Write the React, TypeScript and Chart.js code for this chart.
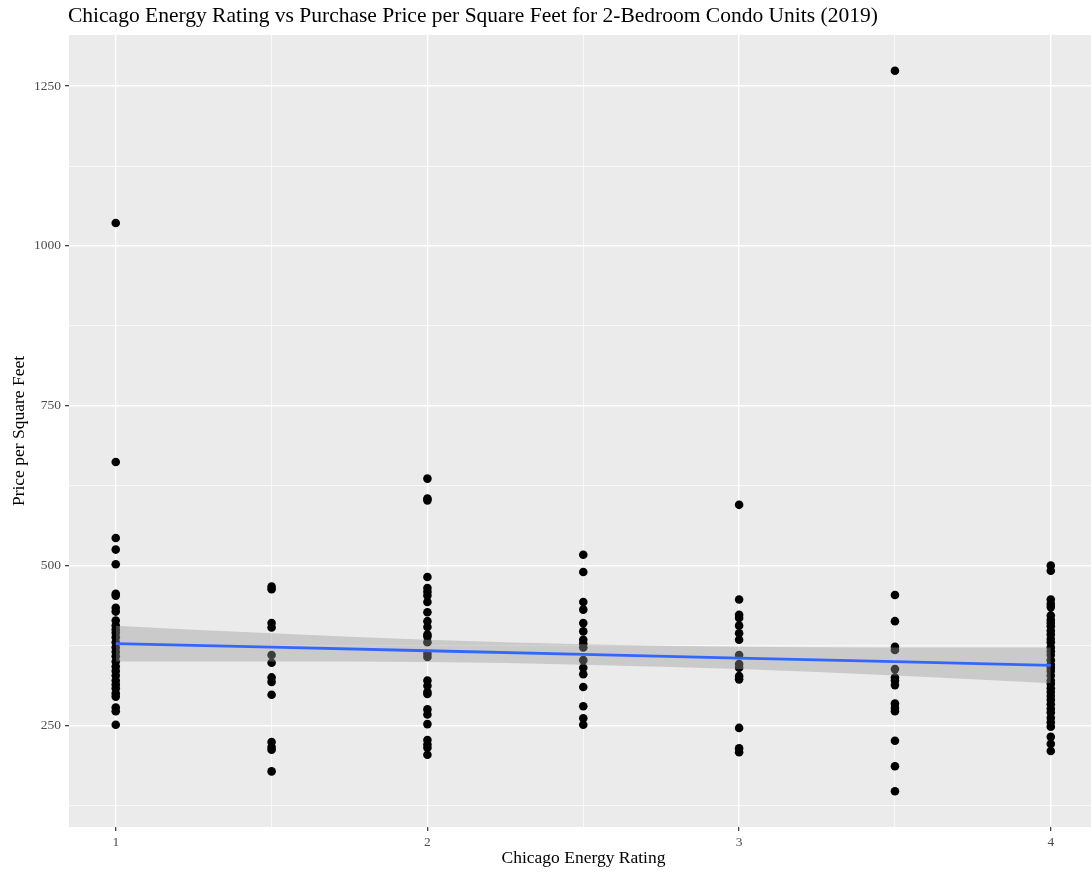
import React, { useEffect, useRef } from "react";
import { Chart, registerables } from "chart.js";

Chart.register(...registerables);

const TITLE = "Chicago Energy Rating vs Purchase Price per Square Feet for 2-Bedroom Condo Units (2019)";
const X_TITLE = "Chicago Energy Rating";
const Y_TITLE = "Price per Square Feet";

const xTicks = [1, 1.5, 2, 2.5, 3, 3.5, 4];
const yTicks = [125, 250, 375, 500, 625, 750, 875, 1000, 1125, 1250];

const pricesR1 = [1036, 662, 543, 525, 502, 456, 453, 434, 428, 414, 406, 400, 395, 388, 380, 372, 365, 358, 350, 342, 335, 328, 320, 314, 308, 300, 295, 278, 272, 251];
const pricesR15 = [467, 463, 410, 403, 360, 348, 325, 318, 298, 224, 216, 212, 178];
const pricesR2 = [636, 605, 602, 482, 465, 459, 453, 443, 427, 413, 404, 392, 389, 380, 362, 357, 320, 312, 302, 299, 275, 267, 252, 227, 220, 215, 204];
const pricesR25 = [517, 490, 443, 431, 410, 397, 384, 378, 372, 352, 340, 330, 310, 280, 261, 251];
const pricesR3 = [595, 447, 423, 418, 406, 394, 384, 360, 346, 340, 327, 322, 246, 214, 208];
const pricesR35 = [1274, 454, 413, 373, 368, 338, 325, 320, 313, 284, 277, 272, 226, 186, 147];
const pricesR4 = [500, 492, 447, 440, 435, 422, 415, 410, 405, 398, 392, 385, 380, 372, 366, 360, 352, 345, 340, 335, 328, 320, 315, 308, 302, 296, 290, 283, 276, 270, 262, 255, 248, 232, 221, 210];

const fitX = [1, 1.5, 2, 2.5, 3, 3.5, 4];
const fitY = [378, 372.3, 366.7, 361, 355.3, 349.7, 344];
const bandLow = [350, 350, 349, 345, 338, 328, 316];
const bandHigh = [406, 394, 384, 377, 373, 372, 372];

const groups: [number, number[]][] = [
  [1, pricesR1],
  [1.5, pricesR15],
  [2, pricesR2],
  [2.5, pricesR25],
  [3, pricesR3],
  [3.5, pricesR35],
  [4, pricesR4],
];

const SERIF = "'Liberation Serif', 'Times New Roman', serif";

export default function App() {
  const ref = useRef<HTMLCanvasElement | null>(null);

  useEffect(() => {
    const canvas = ref.current;
    if (!canvas) return;

    const points = groups.flatMap(([r, arr]) => arr.map((p) => ({ x: r, y: p })));
    const toXY = (ys: number[]) => fitX.map((x, i) => ({ x, y: ys[i] }));

    const textPlugin = {
      id: "texts",
      beforeDraw(chart: any) {
        const { ctx, chartArea } = chart;
        ctx.save();
        ctx.fillStyle = "#EBEBEB";
        ctx.fillRect(chartArea.left, chartArea.top, chartArea.right - chartArea.left, chartArea.bottom - chartArea.top);
        ctx.restore();
      },
      afterDraw(chart: any) {
        const { ctx, chartArea } = chart;
        ctx.save();
        ctx.fillStyle = "#000000";
        ctx.font = `21.5px ${SERIF}`;
        ctx.textAlign = "left";
        ctx.textBaseline = "middle";
        ctx.fillText(TITLE, 68, 16);

        ctx.font = `17.5px ${SERIF}`;
        ctx.textAlign = "center";
        ctx.fillText(X_TITLE, 583.5, 858);

        ctx.translate(19, (chartArea.top + chartArea.bottom) / 2);
        ctx.rotate(-Math.PI / 2);
        ctx.fillText(Y_TITLE, 0, 0);
        ctx.restore();
      },
    };

    const chart = new Chart(canvas, {
      type: "scatter",
      data: {
        datasets: [
          {
            type: "line",
            label: "fit",
            data: toXY(fitY),
            borderColor: "#3366FF",
            borderWidth: 2.8,
            pointRadius: 0,
            fill: false,
            order: 1,
          } as any,
          {
            type: "line",
            label: "upper",
            data: toXY(bandHigh),
            borderWidth: 0,
            borderColor: "rgba(0,0,0,0)",
            pointRadius: 0,
            cubicInterpolationMode: "monotone",
            backgroundColor: "rgba(153,153,153,0.4)",
            fill: "+1",
            order: 2,
          } as any,
          {
            type: "line",
            label: "lower",
            data: toXY(bandLow),
            borderWidth: 0,
            borderColor: "rgba(0,0,0,0)",
            pointRadius: 0,
            cubicInterpolationMode: "monotone",
            fill: false,
            order: 3,
          } as any,
          {
            label: "points",
            data: points,
            backgroundColor: "#000000",
            borderWidth: 0,
            pointRadius: 4.3,
            order: 4,
          },
        ],
      },
      options: {
        responsive: false,
        animation: false,
        events: [],
        layout: { padding: { top: 35, left: 0, right: 0, bottom: 0 }, autoPadding: false },
        plugins: {
          legend: { display: false },
          title: { display: false },
          tooltip: { enabled: false },
        },
        scales: {
          x: {
            type: "linear",
            min: 0.85,
            max: 4.129,
            afterBuildTicks: (scale: any) => {
              scale.ticks = xTicks.map((v) => ({ value: v }));
            },
            afterFit: (scale: any) => {
              scale.height = 46;
            },
            border: { display: false },
            grid: {
              color: "#FFFFFF",
              lineWidth: (ctx: any) => (ctx.tick && ctx.tick.value % 1 === 0 ? 1.4 : 0.7),
              tickColor: (ctx: any) => (ctx.tick && ctx.tick.value % 1 === 0 ? "#333333" : "rgba(0,0,0,0)"),
              tickLength: 4,
              tickWidth: 1.2,
            },
            ticks: {
              autoSkip: false,
              maxRotation: 0,
              padding: 3,
              color: "#4D4D4D",
              font: { family: SERIF, size: 13.5 },
              callback: (v: any) => (Number(v) % 1 === 0 ? String(v) : ""),
            },
          },
          y: {
            type: "linear",
            min: 91,
            max: 1330,
            afterBuildTicks: (scale: any) => {
              scale.ticks = yTicks.map((v) => ({ value: v }));
            },
            afterFit: (scale: any) => {
              scale.width = 69;
            },
            border: { display: false },
            grid: {
              color: "#FFFFFF",
              lineWidth: (ctx: any) => (ctx.tick && ctx.tick.value % 250 === 0 ? 1.4 : 0.7),
              tickColor: (ctx: any) => (ctx.tick && ctx.tick.value % 250 === 0 ? "#333333" : "rgba(0,0,0,0)"),
              tickLength: 4,
              tickWidth: 1.2,
            },
            ticks: {
              autoSkip: false,
              padding: 4,
              color: "#4D4D4D",
              font: { family: SERIF, size: 13.5 },
              callback: (v: any) => (Number(v) % 250 === 0 ? String(v) : ""),
            },
          },
        },
      },
      plugins: [textPlugin],
    } as any);

    return () => chart.destroy();
  }, []);

  return (
    <div style={{ position: "absolute", left: 0, top: 0, width: 1091, height: 873, background: "#FFFFFF" }}>
      <canvas ref={ref} width={1091} height={873} style={{ width: 1091, height: 873, display: "block" }} />
    </div>
  );
}
